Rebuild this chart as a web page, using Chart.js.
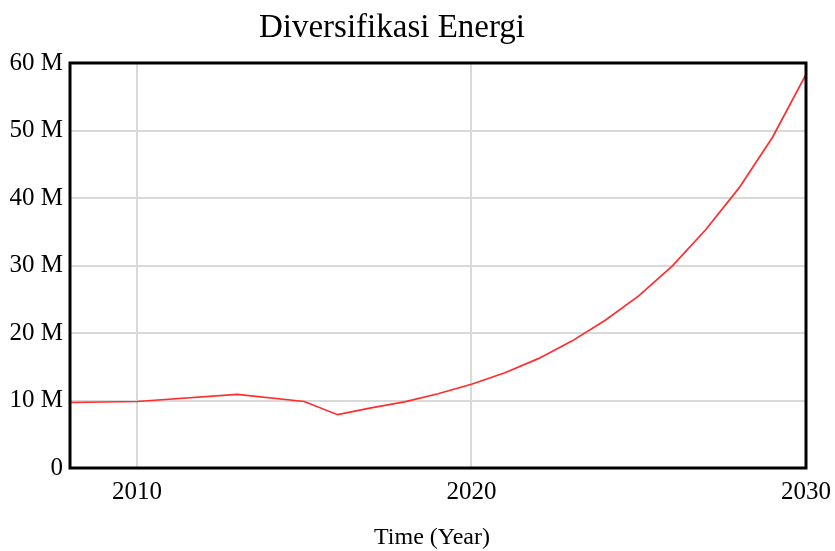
<!DOCTYPE html>
<html>
<head>
<meta charset="utf-8">
<script src="https://cdn.jsdelivr.net/npm/chart.js@4.4.1/dist/chart.umd.min.js"></script>
<style>
  html, body { margin: 0; padding: 0; background: #ffffff; }
  #wrap { width: 835px; height: 551px; position: relative; }
</style>
</head>
<body>
<div id="wrap"><canvas id="chart" width="835" height="551"></canvas></div>
<script>
// Simulation output: Diversifikasi Energi (millions)
const years = [2008, 2010, 2013, 2015, 2016, 2017, 2018, 2019, 2020, 2021, 2022, 2023, 2024, 2025, 2026, 2027, 2028, 2029, 2030];
const diversifikasi = [9.7e6, 9.85e6, 10.9e6, 9.85e6, 7.9e6, 8.9e6, 9.8e6, 11.0e6, 12.4e6, 14.1e6, 16.2e6, 18.8e6, 21.9e6, 25.5e6, 29.9e6, 35.3e6, 41.5e6, 49.0e6, 58.3e6];
const xTicks = [2010, 2020, 2030];
const yTicks = [0, 10e6, 20e6, 30e6, 40e6, 50e6, 60e6];
const chartTitle = 'Diversifikasi Energi';
const xTitle = 'Time (Year)';

const FONT = '"Liberation Serif", "Times New Roman", serif';

const points = years.map((y, i) => ({ x: y, y: diversifikasi[i] }));

// Frame around the plot area plus the title texts
const decor = {
  id: 'decor',
  afterDatasetsDraw(chart) {
    const { ctx, chartArea: a } = chart;
    ctx.save();
    ctx.strokeStyle = '#000000';
    ctx.lineWidth = 3;
    ctx.strokeRect(a.left, a.top, a.right - a.left, a.bottom - a.top);
    ctx.restore();
  },
  afterDraw(chart) {
    const { ctx } = chart;
    ctx.save();
    ctx.fillStyle = '#000000';
    ctx.textAlign = 'center';
    ctx.textBaseline = 'alphabetic';
    ctx.font = '33px ' + FONT;
    ctx.fillText(chartTitle, 392, 37);
    ctx.font = '24px ' + FONT;
    ctx.fillText(xTitle, 432, 544);
    ctx.restore();
  }
};

new Chart(document.getElementById('chart'), {
  type: 'line',
  data: {
    datasets: [{
      data: points,
      borderColor: 'rgb(255, 45, 45)',
      borderWidth: 1.7,
      pointRadius: 0,
      tension: 0,
      fill: false
    }]
  },
  options: {
    responsive: false,
    animation: false,
    layout: { padding: { top: 63, right: 29, left: 0, bottom: 0 } },
    plugins: { legend: { display: false }, tooltip: { enabled: false }, title: { display: false } },
    scales: {
      x: {
        type: 'linear',
        min: 2008,
        max: 2030,
        afterBuildTicks(scale) { scale.ticks = xTicks.map(v => ({ value: v })); },
        afterFit(scale) { scale.height = 83; scale.paddingLeft = 0; scale.paddingRight = 0; },
        grid: { color: '#d9d9d9', lineWidth: 2, drawTicks: false },
        border: { display: false },
        ticks: {
          padding: 9,
          color: '#000000',
          font: { family: FONT, size: 25 },
          maxRotation: 0,
          callback: v => String(v)
        }
      },
      y: {
        type: 'linear',
        min: 0,
        max: 60e6,
        afterBuildTicks(scale) { scale.ticks = yTicks.map(v => ({ value: v })); },
        afterFit(scale) { scale.width = 70; scale.paddingTop = 0; scale.paddingBottom = 0; },
        grid: { color: '#d9d9d9', lineWidth: 2, drawTicks: false },
        border: { display: false },
        ticks: {
          padding: 7,
          color: '#000000',
          font: { family: FONT, size: 25 },
          callback: v => v === 0 ? '0' : (v / 1e6) + ' M'
        }
      }
    }
  },
  plugins: [decor]
});
</script>
</body>
</html>
